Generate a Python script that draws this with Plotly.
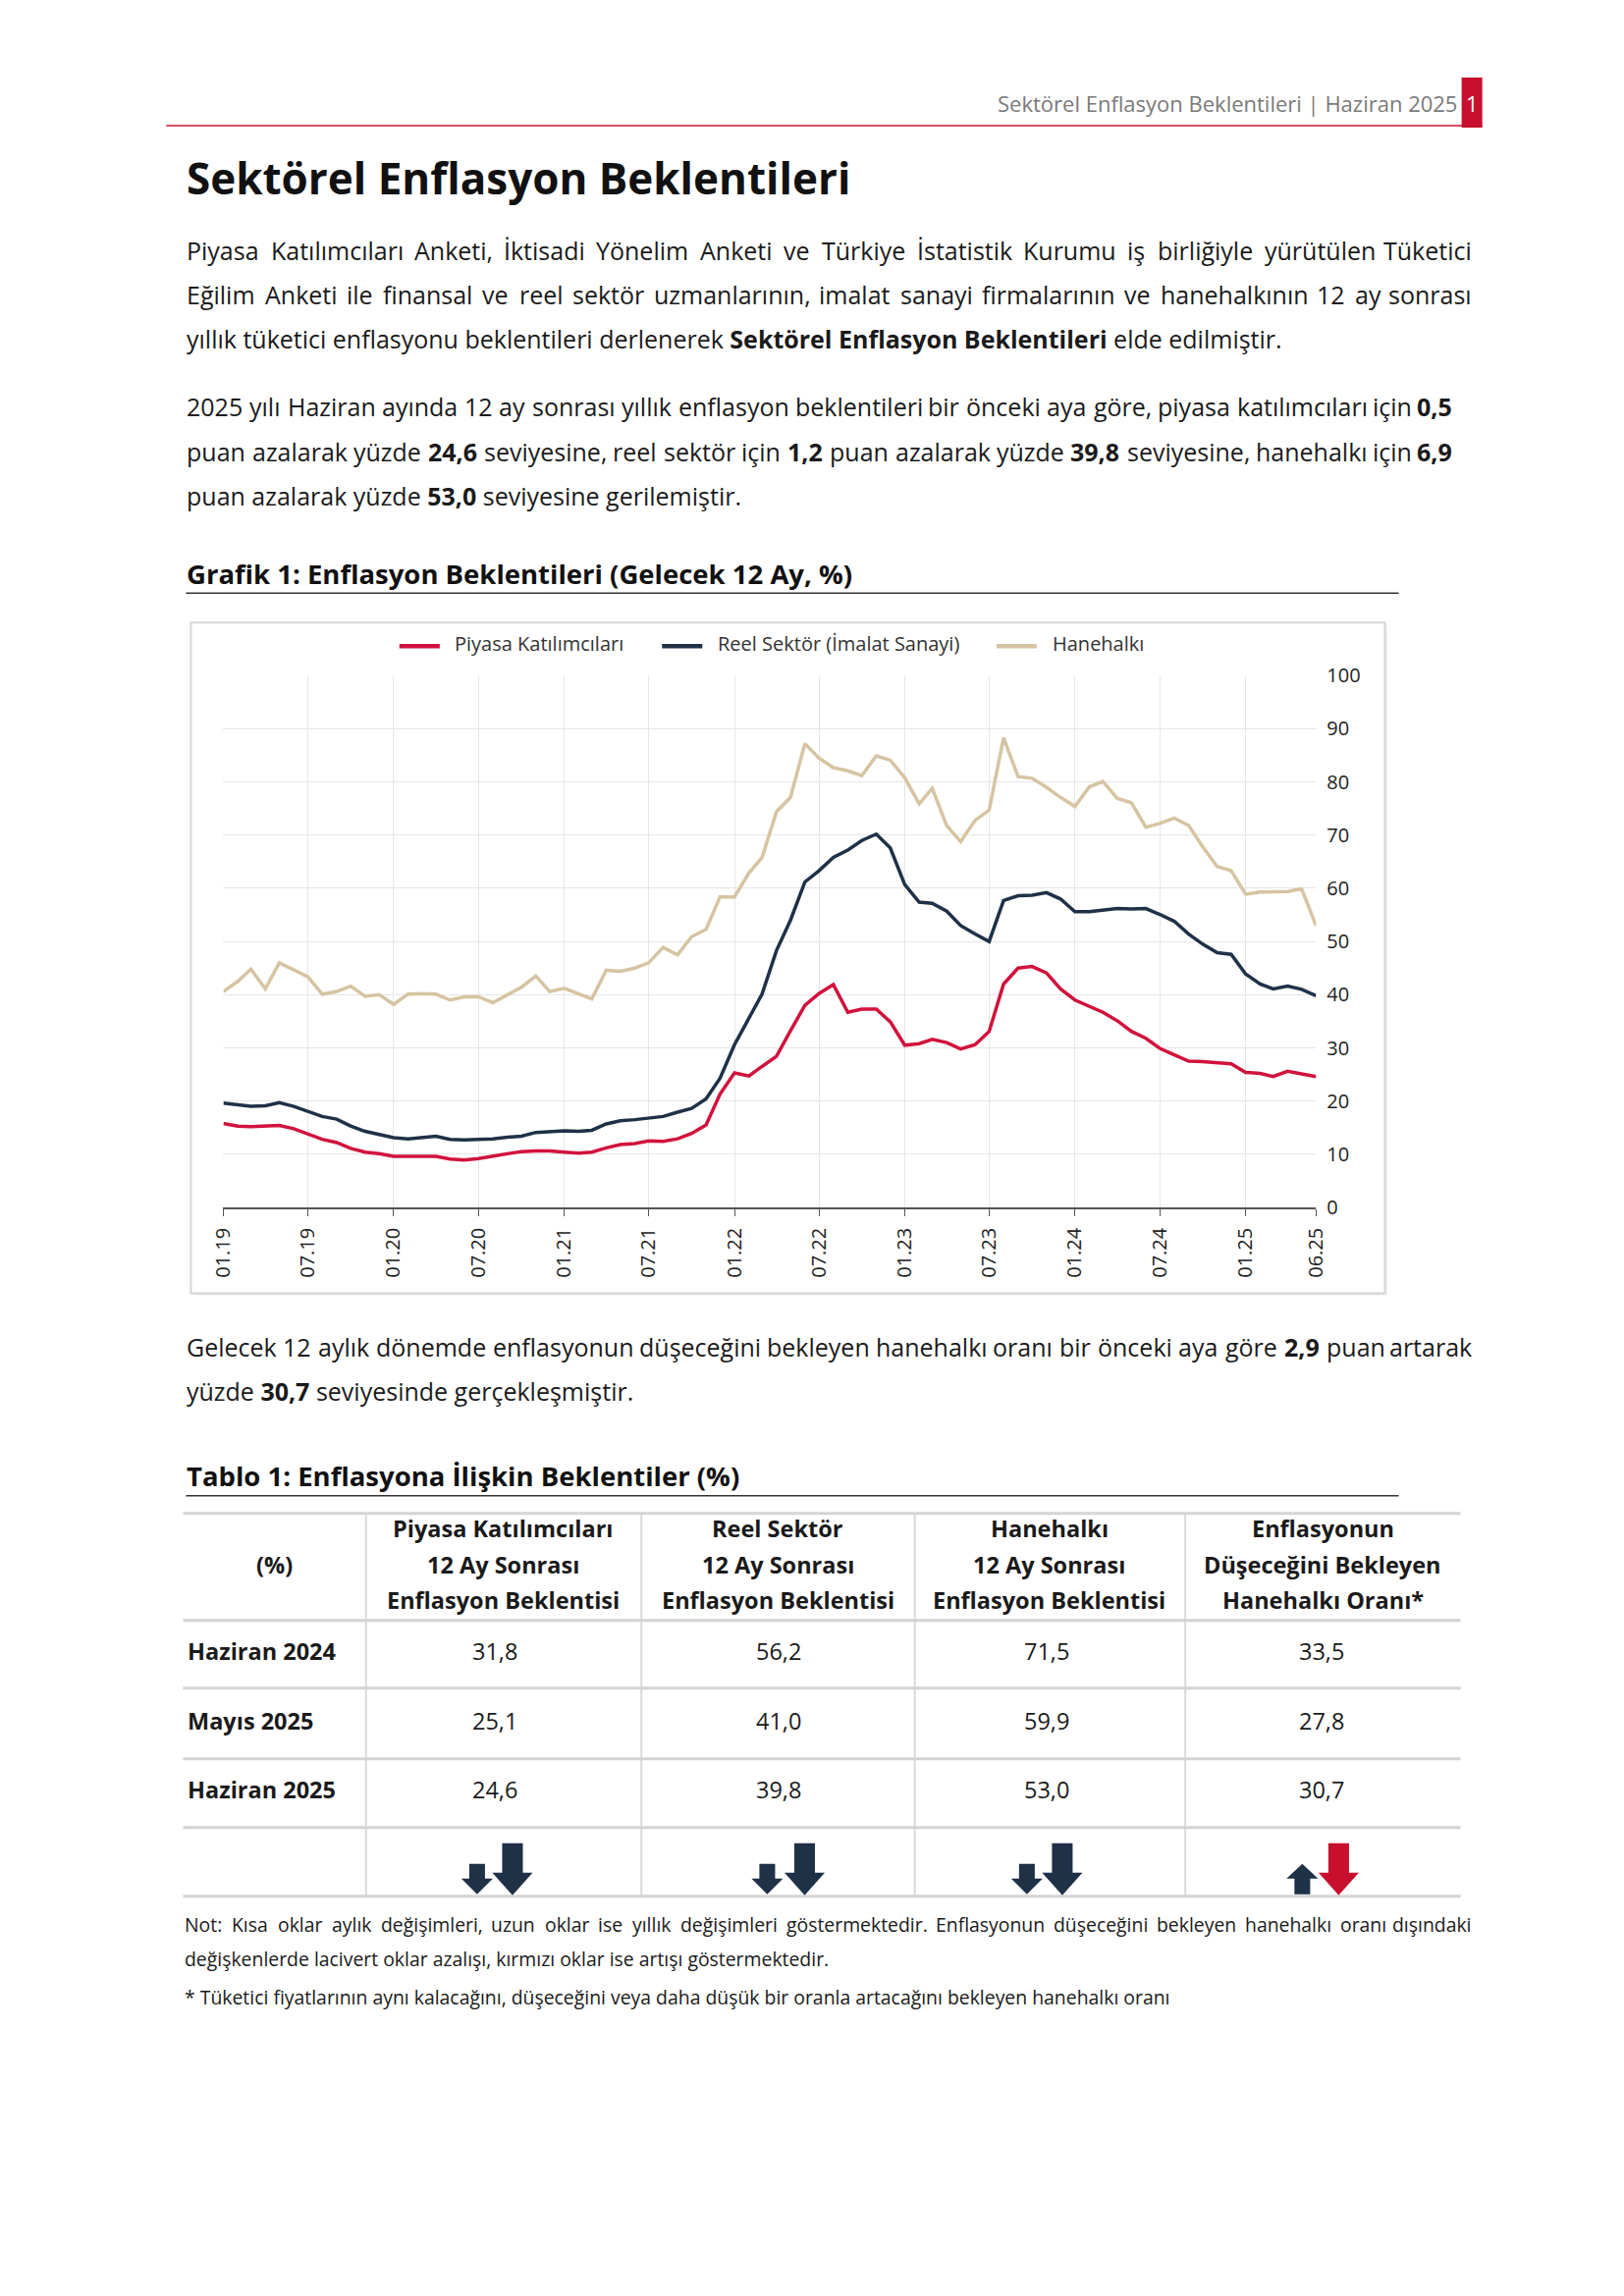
import re
import pandas as pd
import plotly.graph_objects as go

W, H = 1654, 2339

# ---------------- data ----------------
months = pd.date_range("2019-01-01", "2025-06-01", freq="MS")

piyasa = [15.8, 15.3, 15.2, 15.3, 15.4, 14.8, 13.9, 12.8, 12.2, 11.1, 10.4, 10.1,
          9.6, 9.6, 9.6, 9.6, 9.1, 8.9, 9.2, 9.6, 10.1, 10.5, 10.6, 10.6,
          10.4, 10.2, 10.4, 11.2, 11.8, 12.0, 12.5, 12.4, 12.9, 13.9, 15.5, 21.3,
          25.3, 24.7, 26.5, 28.4, 33.2, 38.0, 40.2, 41.9, 36.7, 37.3, 37.3, 34.9,
          30.5, 30.8, 31.6, 31.0, 29.8, 30.6, 33.1, 42.0, 45.0, 45.3, 44.1, 41.1,
          39.0, 37.8, 36.7, 35.1, 33.1, 31.8, 29.9, 28.7, 27.5, 27.4, 27.2, 27.0,
          25.4, 25.2, 24.6, 25.6, 25.1, 24.6]

reel = [19.6, 19.3, 19.0, 19.1, 19.7, 19.0, 18.0, 17.1, 16.6, 15.3, 14.3, 13.7,
        13.1, 12.9, 13.1, 13.4, 12.8, 12.7, 12.8, 12.9, 13.2, 13.4, 14.1, 14.3,
        14.4, 14.3, 14.5, 15.7, 16.3, 16.5, 16.8, 17.1, 17.9, 18.6, 20.4, 24.3,
        30.6, 35.7, 40.1, 48.3, 54.0, 61.2, 63.3, 65.8, 67.2, 69.0, 70.2, 67.6,
        60.7, 57.4, 57.2, 55.7, 53.0, 51.4, 50.0, 57.7, 58.6, 58.7, 59.2, 58.0,
        55.6, 55.6, 55.9, 56.2, 56.1, 56.2, 55.1, 53.8, 51.4, 49.5, 47.9, 47.6,
        43.9, 42.0, 41.1, 41.6, 41.0, 39.8]

hanehalki = [40.6, 42.5, 44.8, 41.1, 46.0, 44.6, 43.4, 40.1, 40.6, 41.6, 39.7, 40.0,
             38.2, 40.1, 40.2, 40.1, 39.0, 39.6, 39.6, 38.5, 40.0, 41.4, 43.5, 40.6,
             41.2, 40.1, 39.2, 44.6, 44.4, 45.0, 46.0, 48.9, 47.5, 50.9, 52.3, 58.4,
             58.4, 62.9, 65.8, 74.4, 77.1, 87.2, 84.5, 82.7, 82.1, 81.2, 84.9, 84.1,
             80.8, 75.9, 78.8, 71.8, 68.8, 72.8, 74.7, 88.3, 81.0, 80.7, 79.0, 77.1,
             75.4, 79.1, 80.1, 76.9, 76.1, 71.5, 72.2, 73.2, 71.8, 67.8, 64.1, 63.3,
             58.9, 59.3, 59.4, 59.4, 59.9, 53.0]

series_names = ["Piyasa Katılımcıları", "Reel Sektör (İmalat Sanayi)", "Hanehalkı"]
series_colors = ["#D2123D", "#1F3147", "#D6C4A2"]

tick_dates = list(months[::6]) + [months[-1]]
tick_text = [d.strftime("%m.%y") for d in tick_dates]

table_rows = ["Haziran 2024", "Mayıs 2025", "Haziran 2025"]
table_headers = [["(%)"],
                 ["Piyasa Katılımcıları", "12 Ay Sonrası", "Enflasyon Beklentisi"],
                 ["Reel Sektör", "12 Ay Sonrası", "Enflasyon Beklentisi"],
                 ["Hanehalkı", "12 Ay Sonrası", "Enflasyon Beklentisi"],
                 ["Enflasyonun", "Düşeceğini Bekleyen", "Hanehalkı Oranı*"]]
col_piyasa = [31.8, 25.1, 24.6]
col_reel = [56.2, 41.0, 39.8]
col_hane = [71.5, 59.9, 53.0]
col_dusus = [33.5, 27.8, 30.7]
table_cols = [col_piyasa, col_reel, col_hane, col_dusus]
inverted_col = [False, False, False, True]

# ---------------- page geometry helpers ----------------
SX, SY, CX, CY = 0.982, 0.988, 827.0, 1170.0

def P(x):
    return CX + (x - CX) / SX

def Q(y):
    return CY + (y - CY) / SY

def X(x):
    return P(x) / W

def Y(y):
    return 1 - Q(y) / H

FONT = "Open Sans"
TEXT_DY = -2.5
annotations = []
shapes = []

def ann_fig(fx, fy, s, size, anchor, color):
    annotations.append(dict(x=fx / W, y=1 - fy / H, xref="paper", yref="paper", text=s,
                            showarrow=False, xanchor=anchor, yanchor="middle",
                            borderpad=0, font=dict(family=FONT, size=size, color=color)))

def text(x, y, s, size=25, anchor="left", color="#1a1a1a"):
    ann_fig(P(x), Q(y + TEXT_DY), s, size, anchor, color)

# approximate Open Sans advance widths (units per 2048 em)
_REG = {' ': 532, ',': 502, '.': 545, ':': 545, '(': 606, ')': 606, '%': 1686, '*': 1130,
        '-': 659, '|': 1128}
for _c in "0123456789":
    _REG[_c] = 1171
_REG.update(dict(zip("abcdefghijklmnopqrstuvwxyz",
                     [1139, 1255, 975, 1255, 1149, 694, 1122, 1257, 518, 518, 1075, 518, 1905,
                      1257, 1237, 1255, 1255, 836, 977, 723, 1257, 1026, 1593, 1073, 1028, 977])))
_REG.update(dict(zip("ABCDEFGHIJKLMNOPQRSTUVWXYZ",
                     [1296, 1327, 1292, 1493, 1139, 1057, 1491, 1511, 571, 547, 1257, 1073, 1849,
                      1544, 1595, 1233, 1595, 1266, 1124, 1133, 1491, 1219, 1896, 1182, 1147, 1169])))
_REG.update({'ı': 518, 'ş': 977, 'ç': 975, 'ğ': 1122, 'ü': 1257, 'ö': 1237,
             'İ': 571, 'Ş': 1124, 'Ç': 1292, 'Ö': 1595, 'Ü': 1491, 'Ğ': 1491})

def est_width(word, size):
    bold = "<b>" in word
    plain = re.sub(r"<[^>]+>", "", word)
    units = sum(_REG.get(ch, 1100) for ch in plain)
    return units / 2048 * size * (1.04 if bold else 1.0)

def justified(y, s, x0, x1, size=25, color="#1a1a1a"):
    words = s.split(" ")
    fx0, fx1 = P(x0), P(x1)
    widths = [est_width(w, size) for w in words]
    gap = (fx1 - fx0 - sum(widths)) / (len(words) - 1)
    gap = max(gap, 0.8 * 532 / 2048 * size)
    fy = Q(y + TEXT_DY)
    pos = fx0
    for i, (w, wd) in enumerate(zip(words, widths)):
        if i == len(words) - 1:
            ann_fig(fx1, fy, w, size, "right", color)
        else:
            ann_fig(pos, fy, w, size, "left", color)
        pos += wd + gap

def hline(y, x0, x1, color, width):
    shapes.append(dict(type="line", xref="paper", yref="paper", x0=X(x0), x1=X(x1),
                       y0=Y(y), y1=Y(y), line=dict(color=color, width=width)))

def vline(x, y0, y1, color, width):
    shapes.append(dict(type="line", xref="paper", yref="paper", x0=X(x), x1=X(x),
                       y0=Y(y0), y1=Y(y1), line=dict(color=color, width=width)))

def rect(x0, y0, x1, y1, line_color=None, fill=None, width=1, layer="above"):
    shapes.append(dict(type="rect", xref="paper", yref="paper", x0=X(x0), x1=X(x1),
                       y0=Y(y1), y1=Y(y0), layer=layer,
                       line=dict(color=line_color or "rgba(0,0,0,0)", width=width if line_color else 0),
                       fillcolor=fill or "rgba(0,0,0,0)"))

def arrow(cx, direction, long, color):
    if long:
        sw, hw, top, base, tip = 21, 41, 1877, 1907, 1930
    else:
        sw, hw, top, base, tip = 16, 32, 1898, 1913, 1929
    if direction == "down":
        pts = [(cx - sw / 2, top), (cx + sw / 2, top), (cx + sw / 2, base), (cx + hw / 2, base),
               (cx, tip), (cx - hw / 2, base), (cx - sw / 2, base)]
    else:
        pts = [(cx, top), (cx + hw / 2, base), (cx + sw / 2, base), (cx + sw / 2, tip),
               (cx - sw / 2, tip), (cx - sw / 2, base), (cx - hw / 2, base)]
    path = "M " + " L ".join(f"{X(px):.5f},{Y(py):.5f}" for px, py in pts) + " Z"
    shapes.append(dict(type="path", xref="paper", yref="paper", path=path,
                       fillcolor=color, line=dict(width=0)))

RED = "#C8102E"
NAVY = "#1F3147"

# ---------------- header ----------------
text(1482, 107, "Sektörel Enflasyon Beklentileri | Haziran 2025", 22, "right", "#7a7a7a")
hline(128, 169, 1507, RED, 1.5)
rect(1486, 79, 1507, 130, fill=RED)
text(1496.5, 107, "1", 22, "center", "#ffffff")

# ---------------- title & paragraphs ----------------
text(189, 183, "<b>Sektörel Enflasyon Beklentileri</b>", 44, "left", "#111111")

L, R = 189, 1497
justified(257, "Piyasa Katılımcıları Anketi, İktisadi Yönelim Anketi ve Türkiye İstatistik Kurumu iş birliğiyle yürütülen Tüketici", L, R)
justified(302, "Eğilim Anketi ile finansal ve reel sektör uzmanlarının, imalat sanayi firmalarının ve hanehalkının 12 ay sonrası", L, R)
text(L, 347, "yıllık tüketici enflasyonu beklentileri derlenerek <b>Sektörel Enflasyon Beklentileri</b> elde edilmiştir.")

justified(416, "2025 yılı Haziran ayında 12 ay sonrası yıllık enflasyon beklentileri bir önceki aya göre, piyasa katılımcıları için <b>0,5</b>", L, 1477)
justified(462, "puan azalarak yüzde <b>24,6</b> seviyesine, reel sektör için <b>1,2</b> puan azalarak yüzde <b>39,8</b> seviyesine, hanehalkı için <b>6,9</b>", L, 1477)
text(L, 507, "puan azalarak yüzde <b>53,0</b> seviyesine gerilemiştir.")

text(L, 587, "<b>Grafik 1: Enflasyon Beklentileri (Gelecek 12 Ay, %)</b>", 27.5, "left", "#111111")
hline(604, 189, 1422, "#333333", 1.5)

# chart frame
rect(196, 636, 1410, 1319, fill="#ececec", layer="below")
rect(194, 634, 1408, 1317, line_color="#d6d6d6", fill="#ffffff", width=2, layer="below")

# legend (custom, matching the reference's long line samples)
legend_line_x = [(406, 447), (673, 714), (1013, 1054)]
legend_text_x = [461, 729, 1069]
for name, color, (lx0, lx1), tx in zip(series_names, series_colors, legend_line_x, legend_text_x):
    hline(658, lx0, lx1, color, 4.5)
    text(tx, 658, name, 20, "left", "#333333")

justified(1374, "Gelecek 12 aylık dönemde enflasyonun düşeceğini bekleyen hanehalkı oranı bir önceki aya göre <b>2,9</b> puan artarak", L, R)
text(L, 1419, "yüzde <b>30,7</b> seviyesinde gerçekleşmiştir.")

# ---------------- table ----------------
text(L, 1505, "<b>Tablo 1: Enflasyona İlişkin Beklentiler (%)</b>", 27.5, "left", "#111111")
hline(1523, 189, 1422, "#333333", 1.5)

t_left, t_right = 186, 1485
dividers = [372, 652, 930, 1205]
h_lines = [1541, 1650, 1719, 1791, 1861, 1931]
for xd in dividers:
    vline(xd, 1541, 1931, "#dadada", 2)
for yl in h_lines:
    hline(yl, t_left, t_right, "#d4d4d4", 3)

TF = 23.5
col_centers = [279, 512, 791, 1067, 1345]
header_lines_y = [1559, 1596, 1632]
text(col_centers[0], 1596, "<b>" + table_headers[0][0] + "</b>", TF, "center", "#1a1a1a")
for ci in range(1, 5):
    for li, s in enumerate(table_headers[ci]):
        text(col_centers[ci], header_lines_y[li], "<b>" + s + "</b>", TF, "center", "#1a1a1a")

row_y = [1684, 1755, 1825]
value_x = [503, 792, 1064, 1344]
for ri, rname in enumerate(table_rows):
    text(190, row_y[ri], "<b>" + rname + "</b>", TF, "left", "#1a1a1a")
    for ci, col in enumerate(table_cols):
        text(value_x[ci], row_y[ri], f"{col[ri]:.1f}".replace(".", ","), TF, "center", "#1a1a1a")

short_x = [485, 780, 1044, 1324]
long_x = [521, 818, 1080, 1361]
for ci, col in enumerate(table_cols):
    monthly = col[2] - col[1]
    annual = col[2] - col[0]
    for change, cx, is_long in [(monthly, short_x[ci], False), (annual, long_x[ci], True)]:
        direction = "up" if change > 0 else "down"
        good = (change > 0) if inverted_col[ci] else (change < 0)
        arrow(cx, direction, is_long, NAVY if good else RED)

# ---------------- notes ----------------
NF = 19.4
justified(1962, "Not: Kısa oklar aylık değişimleri, uzun oklar ise yıllık değişimleri göstermektedir. Enflasyonun düşeceğini bekleyen hanehalkı oranı dışındaki", 187, R, NF)
text(187, 1997, "değişkenlerde lacivert oklar azalışı, kırmızı oklar ise artışı göstermektedir.", NF)
text(187, 2036, "* Tüketici fiyatlarının aynı kalacağını, düşeceğini veya daha düşük bir oranla artacağını bekleyen hanehalkı oranı", NF)

# ---------------- chart ----------------
fig = go.Figure()
for name, vals, color in zip(series_names, [piyasa, reel, hanehalki], series_colors):
    fig.add_trace(go.Scatter(x=months, y=vals, mode="lines", name=name,
                             line=dict(color=color, width=3.5)))

fig.update_layout(
    width=W, height=H,
    margin=dict(l=0, r=0, t=0, b=0),
    paper_bgcolor="#ffffff",
    plot_bgcolor="rgba(0,0,0,0)",
    font=dict(family=FONT, color="#222222"),
    showlegend=False,
    xaxis=dict(domain=[X(227), X(1338)], type="date",
               range=[months[0], months[-1]],
               tickvals=tick_dates, ticktext=tick_text, tickangle=-90,
               tickfont=dict(size=20, color="#222222"),
               showgrid=True, gridcolor="#e6e6e6", gridwidth=1,
               ticks="outside", ticklen=7, tickcolor="#555555", ticklabelstandoff=4,
               showline=True, linecolor="#555555", linewidth=1.5, zeroline=False),
    yaxis=dict(domain=[Y(1229.5), Y(688)], range=[0, 100], dtick=10, side="right",
               tickfont=dict(size=20, color="#222222"),
               showgrid=True, gridcolor="#e6e6e6", gridwidth=1,
               ticks="", showline=False, zeroline=False, ticklabelstandoff=10),
    shapes=shapes,
    annotations=annotations,
)

fig.write_html("out.html", config={"displayModeBar": False},
               post_script="document.body.style.margin='0';")
